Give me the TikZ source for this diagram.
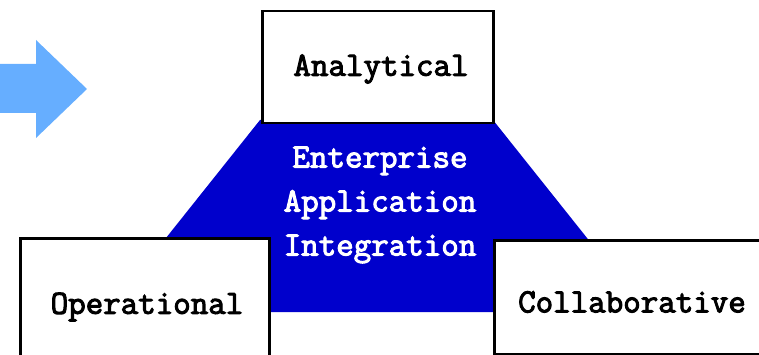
\documentclass[tikz,border=0pt]{standalone}
\usepackage{fontspec}
\newfontfamily\lblfont[FakeBold=3]{Latin Modern Mono}
\definecolor{eaiblue}{HTML}{0000CC}
\definecolor{arrowblue}{HTML}{66AEFF}
\begin{document}
\begin{tikzpicture}[x=1pt,y=-1pt,
  panel/.style={draw=black,line width=2.5pt,fill=white,rectangle,inner sep=0pt,anchor=north west},
  lbl/.style={font=\lblfont\fontsize{34}{44}\selectfont,text=black,inner sep=0pt},
  eailbl/.style={lbl,text=white,align=center}]
\useasboundingbox (0,0) rectangle (759,355);
\clip (0,0) rectangle (759,355);

% direction arrow on the left
\fill[arrowblue] (-2,64) -- (36,64) -- (36,40) -- (87,89) -- (36,138) -- (36,113) -- (-2,113) -- cycle;

% integration trapezoid behind the three panels
\fill[eaiblue] (260,120) -- (493,120) -- (646,312) -- (107,312) -- cycle;
\node[eailbl] (eai) at (380,205) {Enterprise\\Application\\Integration};

% the three panels
\node[panel,minimum width=231pt,minimum height=112pt] (ana) at (261,10) {};
\node[panel,minimum width=249pt,minimum height=140pt] (ope) at (19,237) {};
\node[panel,minimum width=290pt,minimum height=114pt] (col) at (493,239) {};

\node[lbl] (anat) at (381,69) {Analytical};
\node[lbl] (opet) at (147,307) {Operational};
\node[lbl] (colt) at (632,302) {Collaborative};
\end{tikzpicture}
\end{document}
